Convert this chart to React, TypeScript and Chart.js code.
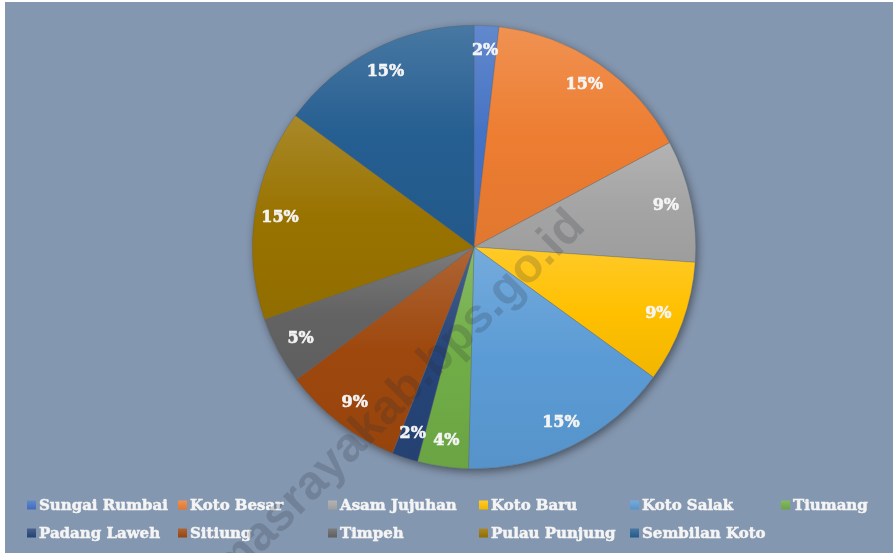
import React, { useEffect, useRef } from "react";
import { Chart, registerables } from "chart.js";

Chart.register(...registerables);

const categories = [
  "Sungai Rumbai",
  "Koto Besar",
  "Asam Jujuhan",
  "Koto Baru",
  "Koto Salak",
  "Tiumang",
  "Padang Laweh",
  "Sitiung",
  "Timpeh",
  "Pulau Punjung",
  "Sembilan Koto",
];
const shares = [1.8, 15.4, 8.9, 8.9, 15.4, 3.7, 1.9, 8.8, 4.9, 15.4, 14.9];
const percentLabels = ["2%", "15%", "9%", "9%", "15%", "4%", "2%", "9%", "5%", "15%", "15%"];
const baseColors = [
  "#4472C4",
  "#ED7D31",
  "#A5A5A5",
  "#FFC000",
  "#5B9BD5",
  "#70AD47",
  "#264478",
  "#9E480E",
  "#636363",
  "#997300",
  "#255E91",
];
const watermark = "dharmasrayakab.bps.go.id";

const FONT = '"DejaVu Serif", serif';

function hexToRgb(h: string) {
  const n = parseInt(h.slice(1), 16);
  return [(n >> 16) & 255, (n >> 8) & 255, n & 255];
}
function mix(h: string, target: number, amt: number) {
  const [r, g, b] = hexToRgb(h);
  const f = (c: number) => Math.round(c + (target - c) * amt);
  return `rgb(${f(r)},${f(g)},${f(b)})`;
}

function sliceGradient(ctx: any) {
  const chart = ctx.chart;
  const i = ctx.dataIndex;
  const base = baseColors[i];
  const area = chart.chartArea;
  if (!area || i === undefined) return base;
  const cx = (area.left + area.right) / 2;
  const cy = (area.top + area.bottom) / 2;
  const r = Math.min(area.right - area.left, area.bottom - area.top) / 2;
  const total = shares.reduce((a, b) => a + b, 0);
  let cum = 0;
  for (let k = 0; k < i; k++) cum += shares[k];
  const a0 = -Math.PI / 2 + (cum / total) * Math.PI * 2;
  const a1 = -Math.PI / 2 + ((cum + shares[i]) / total) * Math.PI * 2;
  const ys = [cy, cy + r * Math.sin(a0), cy + r * Math.sin(a1)];
  const inRange = (a: number) => {
    for (let t = a - 4 * Math.PI; t <= a + 4 * Math.PI; t += 2 * Math.PI) {
      if (t >= a0 && t <= a1) return true;
    }
    return false;
  };
  if (inRange(Math.PI / 2)) ys.push(cy + r);
  if (inRange(-Math.PI / 2)) ys.push(cy - r);
  const y0 = Math.min(...ys);
  const y1 = Math.max(...ys);
  const g = chart.ctx.createLinearGradient(0, y0, 0, Math.max(y1, y0 + 1));
  g.addColorStop(0, mix(base, 255, 0.16));
  g.addColorStop(0.5, base);
  g.addColorStop(1, mix(base, 0, 0.05));
  return g;
}

const shadowPlugin = {
  id: "pieShadow",
  beforeDatasetsDraw(chart: any) {
    const arc = chart.getDatasetMeta(0).data[0];
    if (!arc) return;
    const ctx = chart.ctx;
    ctx.save();
    ctx.shadowColor = "rgba(0,0,0,0.45)";
    ctx.shadowBlur = 9;
    ctx.shadowOffsetX = 2;
    ctx.shadowOffsetY = 3;
    ctx.fillStyle = "#7a8aa0";
    ctx.beginPath();
    ctx.arc(arc.x, arc.y, arc.outerRadius, 0, Math.PI * 2);
    ctx.fill();
    ctx.restore();
  },
};

function boldText(ctx: any, text: string, x: number, y: number) {
  ctx.fillText(text, x, y);
  ctx.strokeText(text, x, y);
}

const labelPlugin = {
  id: "sliceLabels",
  afterDatasetsDraw(chart: any) {
    const ctx = chart.ctx;
    const meta = chart.getDatasetMeta(0);
    ctx.save();
    ctx.font = `bold 16px ${FONT}`;
    ctx.fillStyle = "#f4f4f4";
    ctx.strokeStyle = "#f4f4f4";
    ctx.lineWidth = 0.6;
    ctx.textAlign = "center";
    ctx.textBaseline = "middle";
    meta.data.forEach((arc: any, i: number) => {
      const mid = (arc.startAngle + arc.endAngle) / 2;
      const d = arc.outerRadius * 0.885;
      boldText(ctx, percentLabels[i], arc.x + Math.cos(mid) * d, arc.y + Math.sin(mid) * d);
    });
    ctx.restore();
  },
};

const legendPlugin = {
  id: "gridLegend",
  afterDraw(chart: any) {
    const ctx = chart.ctx;
    const cols = [22, 173, 323, 474, 625, 776];
    const rows = [503, 531];
    ctx.save();
    ctx.font = `bold 15px ${FONT}`;
    ctx.textBaseline = "middle";
    ctx.textAlign = "left";
    ctx.lineWidth = 0.5;
    categories.forEach((name, i) => {
      const x = cols[i % 6];
      const y = rows[Math.floor(i / 6)];
      const g = ctx.createLinearGradient(0, y - 4.5, 0, y + 4.5);
      g.addColorStop(0, mix(baseColors[i], 255, 0.16));
      g.addColorStop(1, mix(baseColors[i], 0, 0.05));
      ctx.fillStyle = g;
      ctx.fillRect(x, y - 4.5, 9, 9);
      ctx.fillStyle = "#f4f4f4";
      ctx.strokeStyle = "#f4f4f4";
      boldText(ctx, name, x + 12, y + 1);
    });
    ctx.restore();
  },
};

const watermarkPlugin = {
  id: "watermark",
  afterDraw(chart: any) {
    const ctx = chart.ctx;
    ctx.save();
    ctx.translate(582, 226);
    ctx.rotate(-Math.PI / 4);
    ctx.font = 'bold 48px "Liberation Sans", Arial, sans-serif';
    ctx.fillStyle = "rgba(40,45,55,0.2)";
    ctx.textAlign = "right";
    ctx.textBaseline = "alphabetic";
    ctx.fillText(watermark, 0, 0);
    ctx.restore();
  },
};

export default function App() {
  const ref = useRef<HTMLCanvasElement>(null);
  useEffect(() => {
    document.body.style.margin = "0";
    const chart = new Chart(ref.current!, {
      type: "pie",
      data: {
        labels: categories,
        datasets: [
          {
            data: shares,
            backgroundColor: sliceGradient as any,
            borderColor: "rgba(90,95,105,0.55)",
            borderWidth: 0.6,
          },
        ],
      },
      options: {
        animation: false,
        responsive: true,
        maintainAspectRatio: false,
        layout: { padding: { left: 247, right: 197, top: 20, bottom: 81 } },
        plugins: {
          legend: { display: false },
          tooltip: { enabled: false },
        },
      },
      plugins: [shadowPlugin, labelPlugin, legendPlugin, watermarkPlugin],
    });
    return () => chart.destroy();
  }, []);
  return (
    <div style={{ padding: "2px 0 0 5px", background: "#fff" }}>
      <div style={{ width: 888, height: 551, background: "#8497b0", position: "relative" }}>
        <canvas ref={ref} />
      </div>
    </div>
  );
}
